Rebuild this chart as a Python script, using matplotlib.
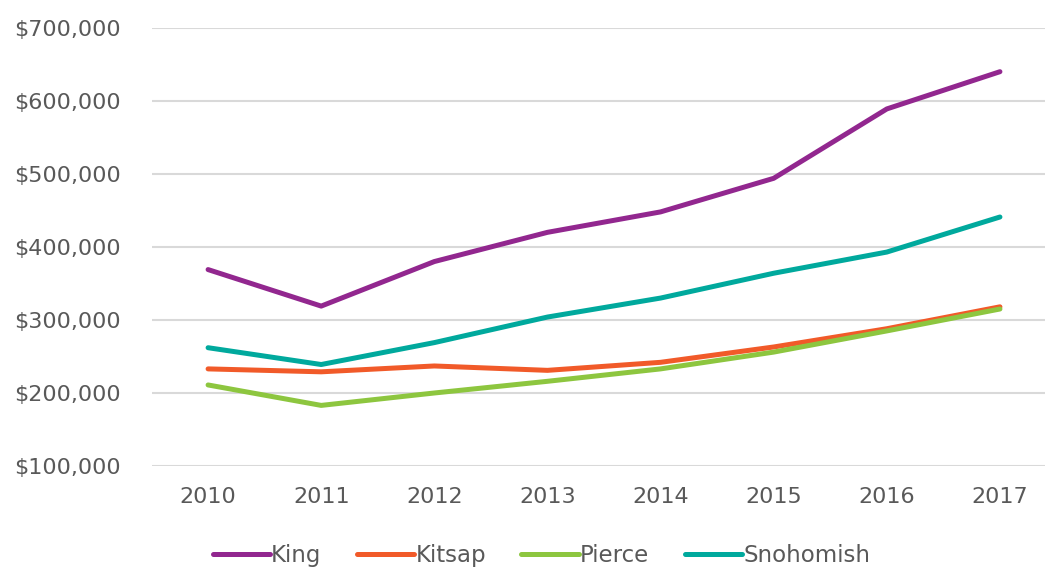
import numpy as np
import matplotlib.pyplot as plt

# Median home values by county
years = ['2010', '2011', '2012', '2013', '2014', '2015', '2016', '2017']
king = [369000, 319000, 380000, 420000, 448000, 494000, 589000, 640000]
kitsap = [233000, 229000, 237000, 231000, 242000, 263000, 288000, 318000]
pierce = [211000, 183000, 200000, 216000, 233000, 256000, 285000, 315000]
snohomish = [262000, 239000, 269000, 304000, 330000, 364000, 393000, 441000]

series = [('King', king, '#92278F'),
          ('Kitsap', kitsap, '#F15A29'),
          ('Pierce', pierce, '#8DC63F'),
          ('Snohomish', snohomish, '#00A99D')]

plt.rcParams['font.family'] = ['DejaVu Sans']

fig = plt.figure(figsize=(10.45, 5.69), dpi=100)
ax = fig.add_axes([0.145, 0.181, 0.866, 0.77])

x = np.arange(len(years))
for name, vals, col in series:
    ax.plot(x, vals, color=col, lw=3.6, label=name, solid_capstyle='round')

ax.set_xlim(-0.5, len(years) - 0.5)
ax.set_ylim(100000, 700000)
ax.set_yticks(np.arange(100000, 700001, 100000))
ax.set_yticklabels(['${:,.0f}'.format(v) for v in ax.get_yticks()])
ax.set_xticks(x)
ax.set_xticklabels(years)
ax.grid(axis='y', color='#d9d9d9', lw=1.5)
ax.set_axisbelow(True)
for s in ax.spines.values():
    s.set_visible(False)
ax.tick_params(length=0, labelsize=16, colors='#595959', pad=15)
ax.tick_params(axis='y', pad=22)

leg = fig.legend(loc='lower center', bbox_to_anchor=(0.518, -0.032), ncol=4,
                 frameon=False, fontsize=16.5, handlelength=2.5, handletextpad=0.05,
                 columnspacing=1.55)
for t in leg.get_texts():
    t.set_color('#595959')

fig.savefig('out.png', dpi=100)
